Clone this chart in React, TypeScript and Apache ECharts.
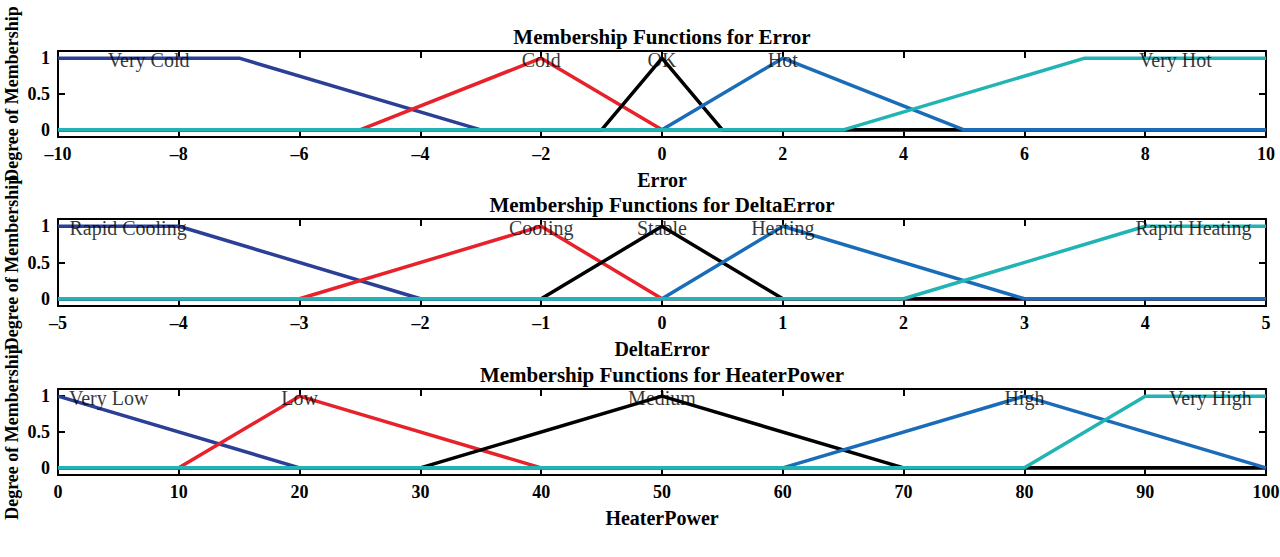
import React, { useEffect, useRef } from "react";
import * as echarts from "echarts";

// ---- Data (membership function breakpoints) ----
// Panel 1: Error
const errorVeryCold = [[-10, 1], [-7, 1], [-3, 0], [10, 0]];
const errorCold = [[-10, 0], [-5, 0], [-2, 1], [0, 0], [10, 0]];
const errorOK = [[-10, 0], [-1, 0], [0, 1], [1, 0], [10, 0]];
const errorHot = [[-10, 0], [0, 0], [2, 1], [5, 0], [10, 0]];
const errorVeryHot = [[-10, 0], [3, 0], [7, 1], [10, 1]];
const errorLabels = ["Very Cold", "Cold", "OK", "Hot", "Very Hot"];
const errorLabelX = [-8.5, -2, 0, 2, 8.5];

// Panel 2: DeltaError
const deltaRapidCooling = [[-5, 1], [-4, 1], [-2, 0], [5, 0]];
const deltaCooling = [[-5, 0], [-3, 0], [-1, 1], [0, 0], [5, 0]];
const deltaStable = [[-5, 0], [-1, 0], [0, 1], [1, 0], [5, 0]];
const deltaHeating = [[-5, 0], [0, 0], [1, 1], [3, 0], [5, 0]];
const deltaRapidHeating = [[-5, 0], [2, 0], [4, 1], [5, 1]];
const deltaLabels = ["Rapid Cooling", "Cooling", "Stable", "Heating", "Rapid Heating"];
const deltaLabelX = [-4.42, -1, 0, 1, 4.4];

// Panel 3: HeaterPower
const powerVeryLow = [[0, 1], [20, 0], [100, 0]];
const powerLow = [[0, 0], [10, 0], [20, 1], [40, 0], [100, 0]];
const powerMedium = [[0, 0], [30, 0], [50, 1], [70, 0], [100, 0]];
const powerHigh = [[0, 0], [60, 0], [80, 1], [100, 0]];
const powerVeryHigh = [[0, 0], [80, 0], [90, 1], [100, 1]];
const powerLabels = ["Very Low", "Low", "Medium", "High", "Very High"];
const powerLabelX = [4.2, 20, 50, 80, 95.4];

const yTicks = [0, 0.5, 1];
const yName = "Degree of Membership";

const mfColors = ["#2b3f96", "#e8222b", "#000000", "#1a6cb8", "#22b4b4"];
const FONT = '"Liberation Serif", "Times New Roman", serif';

const panels = [
  {
    title: "Membership Functions for Error",
    xName: "Error",
    min: -10, max: 10, interval: 2,
    mfs: [errorVeryCold, errorCold, errorOK, errorHot, errorVeryHot],
    labels: errorLabels, labelX: errorLabelX,
    top: 51, height: 86,
  },
  {
    title: "Membership Functions for DeltaError",
    xName: "DeltaError",
    min: -5, max: 5, interval: 1,
    mfs: [deltaRapidCooling, deltaCooling, deltaStable, deltaHeating, deltaRapidHeating],
    labels: deltaLabels, labelX: deltaLabelX,
    top: 219, height: 87,
  },
  {
    title: "Membership Functions for HeaterPower",
    xName: "HeaterPower",
    min: 0, max: 100, interval: 10,
    mfs: [powerVeryLow, powerLow, powerMedium, powerHigh, powerVeryHigh],
    labels: powerLabels, labelX: powerLabelX,
    top: 389, height: 86,
  },
];

const GRID_LEFT = 58;
const GRID_RIGHT = 14;

function buildOption() {
  const grid: any[] = [];
  const xAxis: any[] = [];
  const yAxis: any[] = [];
  const series: any[] = [];
  const graphic: any[] = [];

  const axisLine = { show: true, onZero: false, lineStyle: { color: "#000", width: 2 } };
  const axisTick = { show: true, inside: true, length: 7, lineStyle: { color: "#000", width: 2 } };

  panels.forEach((p, i) => {
    grid.push({
      left: GRID_LEFT, right: GRID_RIGHT, top: p.top, height: p.height,
      containLabel: false, outerBoundsMode: "none",
    });
    // bottom x axis
    xAxis.push({
      gridIndex: i, type: "value", position: "bottom",
      min: p.min, max: p.max, interval: p.interval,
      axisLine, axisTick, splitLine: { show: false },
      axisLabel: {
        color: "#000", fontFamily: FONT, fontWeight: "bold", fontSize: 18, margin: 8,
        formatter: (v: number) => String(v).replace("-", "\u2013"),
      },
      name: p.xName, nameLocation: "middle", nameGap: 33,
      nameTextStyle: { color: "#000", fontFamily: FONT, fontWeight: "bold", fontSize: 20 },
    });
    // top x axis (box + ticks)
    xAxis.push({
      gridIndex: i, type: "value", position: "top",
      min: p.min, max: p.max, interval: p.interval,
      axisLine, axisTick, splitLine: { show: false }, axisLabel: { show: false },
    });
    // left y axis
    yAxis.push({
      gridIndex: i, type: "value", position: "left",
      min: -0.1, max: 1.1,
      axisLine, splitLine: { show: false },
      axisTick: { ...axisTick, customValues: yTicks },
      axisLabel: {
        customValues: yTicks,
        color: "#000", fontFamily: FONT, fontWeight: "bold", fontSize: 18, margin: 8,
      },
    });
    // right y axis
    yAxis.push({
      gridIndex: i, type: "value", position: "right",
      min: -0.1, max: 1.1,
      axisLine, splitLine: { show: false },
      axisTick: { ...axisTick, customValues: yTicks },
      axisLabel: { show: false },
    });

    p.mfs.forEach((mf, k) => {
      series.push({
        type: "line", xAxisIndex: 2 * i, yAxisIndex: 2 * i,
        data: mf, showSymbol: false, symbol: "none",
        lineStyle: { color: mfColors[k], width: 3.5 },
        itemStyle: { color: mfColors[k] },
        z: 3,
      });
    });

    series.push({
      type: "scatter", xAxisIndex: 2 * i, yAxisIndex: 2 * i,
      symbolSize: 0, z: 5, silent: true,
      data: p.labels.map((name, k) => ({ name, value: [p.labelX[k], 0.97] })),
      label: {
        show: true, position: "inside", formatter: (d: any) => d.name,
        color: "#000", fontFamily: FONT, fontSize: 20,
      },
    });

    graphic.push({
      type: "text", x: 662, y: p.top - 14,
      style: {
        text: p.title, fill: "#000", align: "center", verticalAlign: "middle",
        font: `bold 21px ${FONT}`,
      },
    });

    graphic.push({
      type: "text", x: 12, y: p.top + p.height / 2, rotation: Math.PI / 2,
      style: {
        text: yName, fill: "#000", align: "center", verticalAlign: "middle",
        font: `bold 18px ${FONT}`,
      },
    });
  });

  return { animation: false, backgroundColor: "#fff", grid, xAxis, yAxis, series, graphic };
}

export default function App() {
  const ref = useRef<HTMLDivElement>(null);
  useEffect(() => {
    if (!ref.current) return;
    const chart = echarts.init(ref.current, undefined, { renderer: "svg" });
    chart.setOption(buildOption() as any);
    return () => chart.dispose();
  }, []);
  return (
    <div
      ref={ref}
      style={{ position: "fixed", left: 0, top: 0, width: 1280, height: 557, background: "#fff" }}
    />
  );
}
